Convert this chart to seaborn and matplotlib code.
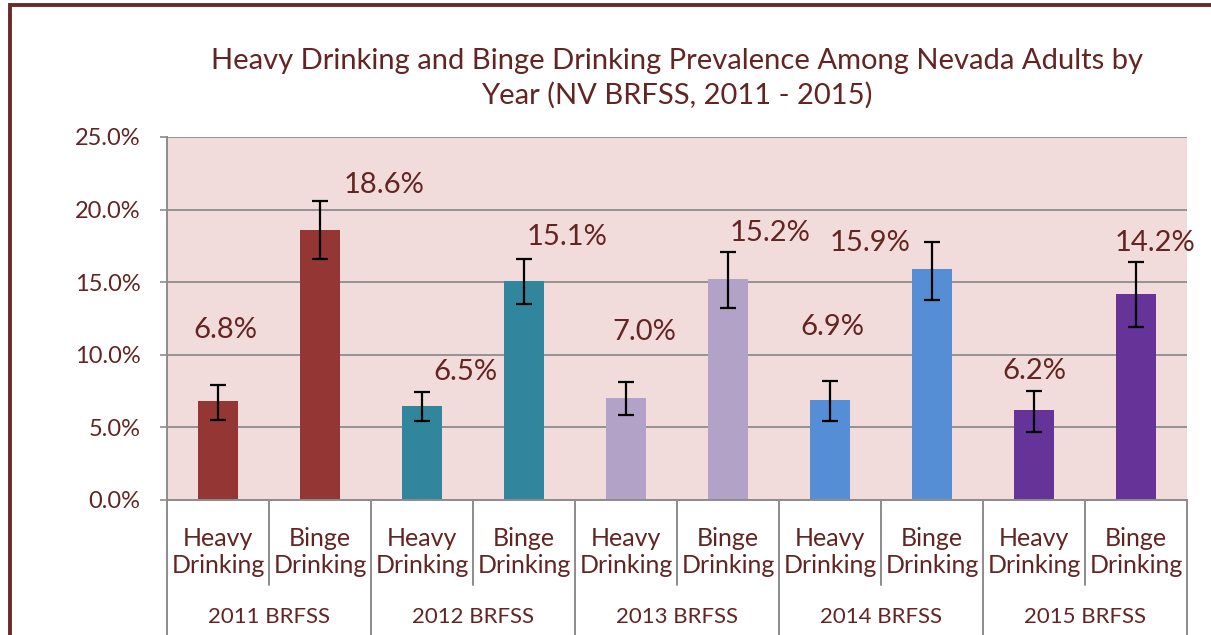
import pandas as pd
import numpy as np
import matplotlib
matplotlib.use("Agg")
import matplotlib.pyplot as plt
import seaborn as sns
from matplotlib.patches import Rectangle
from matplotlib.ticker import FuncFormatter

# data
years = ["2011 BRFSS", "2012 BRFSS", "2013 BRFSS", "2014 BRFSS", "2015 BRFSS"]
measures = ["Heavy\nDrinking", "Binge\nDrinking"]
prevalence = [6.8, 18.6, 6.5, 15.1, 7.0, 15.2, 6.9, 15.9, 6.2, 14.2]
ci_low = [5.5, 16.6, 5.45, 13.5, 5.85, 13.2, 5.45, 13.8, 4.7, 11.9]
ci_high = [7.95, 20.6, 7.45, 16.6, 8.1, 17.1, 8.2, 17.8, 7.5, 16.4]

# manual label placement (as in the original chart)
label_dx = [0.07, 0.63, 0.43, 0.42, 0.18, 0.41, 0.02, -0.61, 0.0, 0.19]
label_y = [11.7, 21.7, 8.8, 18.1, 11.6, 18.4, 11.9, 17.7, 8.9, 17.7]

colors = ["#943634", "#31859C", "#B3A2C7", "#558ED5", "#663399"]
text_col = "#632523"
grid_col = "#8c8c8c"

df = pd.DataFrame({
    "key": [f"{y} {m}" for y in years for m in measures],
    "year": [y for y in years for m in measures],
    "measure": [m for y in years for m in measures],
    "value": prevalence,
})

sns.set_style("white")
plt.rcParams["font.family"] = ["Lato", "DejaVu Sans"]

fig = plt.figure(figsize=(12.11, 6.35), dpi=100)
ax = fig.add_axes([167 / 1211, 135 / 635, 1020 / 1211, 363 / 635])
ax.set_facecolor("#F2DCDB")

sns.barplot(data=df, x="key", y="value", hue="year", palette=colors,
            dodge=False, width=0.4, legend=False, ax=ax, saturation=1,
            linewidth=0)

xs = np.arange(len(df))
err = [df["value"] - np.array(ci_low), np.array(ci_high) - df["value"]]
ax.errorbar(xs, df["value"], yerr=err, fmt="none", ecolor="black",
            elinewidth=1.6, capsize=6, capthick=1.6, zorder=4)

for i, v in enumerate(prevalence):
    ax.text(xs[i] + label_dx[i], label_y[i], f"{v:.1f}%", ha="center",
            va="center", fontsize=21, color=text_col)

ax.set_xlim(-0.5, len(df) - 0.5)
ax.set_ylim(0, 25)
ax.set_yticks(np.arange(0, 26, 5))
ax.yaxis.set_major_formatter(FuncFormatter(lambda v, p: f"{v:.1f}%"))
ax.tick_params(axis="y", length=5, width=1.2, color=grid_col, pad=14,
               labelsize=17, labelcolor=text_col, left=True)
ax.grid(axis="y", color=grid_col, linewidth=1.3)
ax.set_axisbelow(True)
ax.set_xticks([])
ax.set_xlabel("")
ax.set_ylabel("")
for s in ["top", "right"]:
    ax.spines[s].set_visible(False)
for s in ["left", "bottom"]:
    ax.spines[s].set_color(grid_col)
    ax.spines[s].set_linewidth(1.4)

# two-level category axis
tr = ax.get_xaxis_transform()
for i, m in enumerate(df["measure"]):
    ax.text(xs[i], -0.143, m, transform=tr, ha="center", va="center",
            fontsize=18, color=text_col, linespacing=1.25)
for j, y in enumerate(years):
    ax.text(2 * j + 0.5, -0.322, y, transform=tr, ha="center", va="center",
            fontsize=16, color=text_col)
for b in np.arange(-0.5, len(df), 1):
    bottom = -0.38 if (b + 0.5) % 2 == 0 else -0.234
    ax.plot([b, b], [0, bottom], transform=tr, color=grid_col,
            linewidth=1.4, clip_on=False)

ax.set_title("Heavy Drinking and Binge Drinking Prevalence Among Nevada Adults by\n"
             "Year (NV BRFSS, 2011 - 2015)", fontsize=21, color=text_col,
             pad=24, linespacing=1.35)

fig.patches.append(Rectangle((9.5 / 1211, -0.05), 1.2, 1.05 - 5 / 635,
                             transform=fig.transFigure, fill=False,
                             edgecolor="#6B2A2A", linewidth=2.8))

fig.savefig("out.png", dpi=100)
